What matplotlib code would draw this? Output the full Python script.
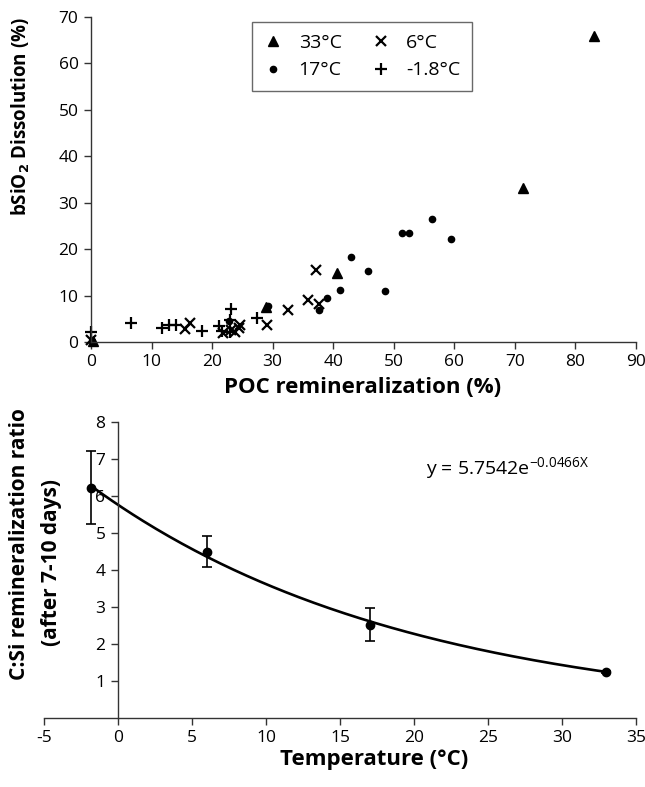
import numpy as np
import matplotlib.pyplot as plt

plt.rcParams['font.family'] = ['Open Sans', 'DejaVu Sans']
plt.rcParams['axes.unicode_minus'] = False

# POC remineralization (%) vs bSiO2 dissolution (%) for each incubation temperature
poc_33 = [0.3, 28.9, 40.7, 71.3, 83.1]
sio_33 = [0.2, 7.6, 14.9, 33.1, 65.9]

poc_17 = [0.2, 22.8, 29.3, 37.6, 39.0, 41.2, 43.0, 45.7, 48.6, 51.3, 52.5, 56.3, 59.5]
sio_17 = [0.3, 4.6, 7.8, 6.9, 9.4, 11.3, 18.4, 15.2, 10.9, 23.5, 23.5, 26.4, 22.1]

poc_6 = [0.0, 15.6, 16.3, 21.8, 23.2, 23.8, 24.4, 24.6, 29.0, 32.6, 35.8, 37.1, 37.6]
sio_6 = [0.5, 2.7, 4.0, 1.9, 2.6, 2.2, 3.1, 3.6, 3.6, 6.9, 9.0, 15.6, 8.1]

poc_m18 = [0.0, 6.6, 11.7, 12.9, 14.0, 18.4, 21.1, 21.6, 22.9, 23.0, 23.1, 27.4]
sio_m18 = [2.2, 4.0, 3.1, 3.6, 3.6, 2.4, 3.4, 2.4, 4.7, 2.2, 7.2, 5.1]

# C:Si remineralization ratio vs temperature
temps = [-1.8, 6, 17, 33]
ratio = [6.22, 4.49, 2.51, 1.24]
err_lo = [5.24, 4.06, 2.07, 1.22]
err_hi = [7.22, 4.91, 2.96, 1.26]
fit_a, fit_b = 5.7542, -0.0466

W, H = 645, 787
fig = plt.figure(figsize=(W / 100, H / 100), dpi=100)


def fx(px):
    return px / W


def fy(py):
    return 1 - py / H


axcol = '#333333'

# ---- top panel ----
ax1 = fig.add_axes([fx(91), fy(342), 545 / W, 325 / H])
ax1.plot(poc_33, sio_33, ls='none', marker='^', ms=7.5, color='black', clip_on=False, label='33°C')
ax1.plot(poc_17, sio_17, ls='none', marker='o', ms=4.5, color='black', clip_on=False, label='17°C')
ax1.plot(poc_6, sio_6, ls='none', marker='x', ms=7.5, mew=1.6, color='black', clip_on=False, label='6°C')
ax1.plot(poc_m18, sio_m18, ls='none', marker='+', ms=8, mew=1.6, color='black', clip_on=False, label='-1.8°C')
ax1.set_xlim(0, 90)
ax1.set_ylim(0, 70)
ax1.set_xticks(np.arange(0, 91, 10))
ax1.set_yticks(np.arange(0, 71, 10))

ax1.legend(ncol=2, loc='upper left', bbox_to_anchor=(fx(252), fy(22)), bbox_transform=fig.transFigure,
           borderaxespad=0, frameon=True, fancybox=False, edgecolor='#444444', fontsize=14,
           handlelength=1.0, handletextpad=0.8, columnspacing=1.5, borderpad=0.6, labelspacing=0.5)
ax1.get_legend().get_frame().set_linewidth(1.0)

fig.text(fx(363), fy(387), 'POC remineralization (%)', ha='center', va='center',
         fontsize=16, fontweight='bold')
fig.text(fx(21), fy(117), 'bSiO$_\\mathbf{2}$ Dissolution (%)', ha='center', va='center',
         rotation=90, fontsize=13.5, fontweight='bold')

# ---- bottom panel ----
ax2 = fig.add_axes([fx(44), fy(717.7), 592 / W, 296 / H])
tt = np.linspace(temps[0], temps[-1], 200)
ax2.plot(tt, fit_a * np.exp(fit_b * tt), color='black', lw=1.9)
ax2.errorbar(temps, ratio,
             yerr=[np.array(ratio) - np.array(err_lo), np.array(err_hi) - np.array(ratio)],
             fmt='o', ms=6, color='black', ecolor='black', elinewidth=1.2, capsize=3.5, capthick=1.2,
             clip_on=False)
ax2.set_xlim(-5, 35)
ax2.set_ylim(0, 8)
ax2.set_xticks(np.arange(-5, 36, 5))
ax2.set_yticks(np.arange(1, 9, 1))
ax2.spines['left'].set_position(('data', 0))
ax2.text(0.645, 0.84, 'y = 5.7542e$^{\\mathregular{-0.0466X}}$', transform=ax2.transAxes,
         fontsize=14, ha='left', va='center')

fig.text(fx(374), fy(760), 'Temperature (°C)', ha='center', va='center',
         fontsize=16, fontweight='bold')
fig.text(fx(20), fy(544), 'C:Si remineralization ratio', ha='center', va='center',
         rotation=90, fontsize=15, fontweight='bold')
fig.text(fx(52), fy(562), '(after 7-10 days)', ha='center', va='center',
         rotation=90, fontsize=15, fontweight='bold')

for ax in (ax1, ax2):
    ax.spines['top'].set_visible(False)
    ax.spines['right'].set_visible(False)
    for s in ('left', 'bottom'):
        ax.spines[s].set_color(axcol)
        ax.spines[s].set_linewidth(1.0)
    ax.tick_params(direction='out', length=5, width=1.0, color=axcol, labelsize=12.5, pad=4)

fig.savefig('out.png', dpi=100)
